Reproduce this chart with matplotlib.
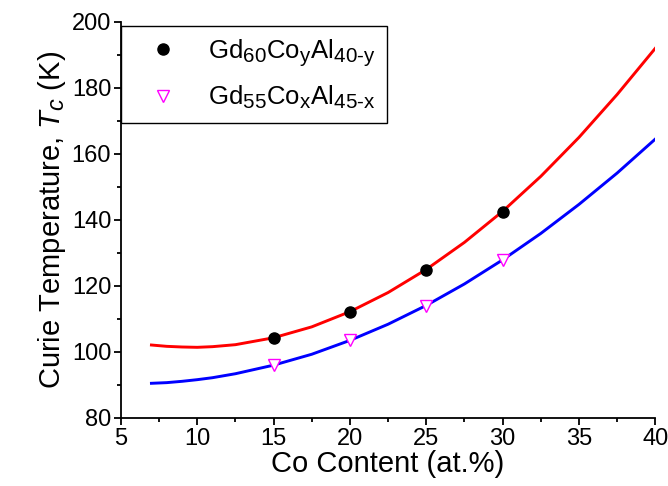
import matplotlib
matplotlib.use("Agg")
import matplotlib.pyplot as plt
import matplotlib._mathtext as mt
from matplotlib.ticker import MultipleLocator

plt.rcParams['font.family'] = 'Liberation Sans'
plt.rcParams['mathtext.fontset'] = 'custom'
plt.rcParams['mathtext.rm'] = 'Liberation Sans'
plt.rcParams['mathtext.it'] = 'Liberation Sans:italic'
mt.SHRINK_FACTOR = 0.8  # larger subscripts, like the original

# measured points
co_pts = [15, 20, 25, 30]
tc_gd60 = [104.3, 112.2, 124.8, 142.5]
tc_gd55 = [96.0, 103.5, 114.0, 127.8]

# fitted curves
co_fit = [7, 8, 9, 10, 11, 12.5, 15, 17.5, 20, 22.5, 25, 27.5, 30, 32.5, 35, 37.5, 40]
fit_gd60 = [102.1, 101.7, 101.5, 101.4, 101.6, 102.2, 104.3, 107.6, 112.2, 118.0, 125.0,
            133.2, 142.6, 153.2, 165.0, 178.0, 192.0]
fit_gd55 = [90.5, 90.7, 91.1, 91.6, 92.2, 93.4, 96.0, 99.3, 103.5, 108.4, 114.1,
            120.6, 127.9, 135.9, 144.7, 154.2, 164.5]

fig = plt.figure(figsize=(6.68, 4.86), dpi=100)
ax = fig.add_axes([0.181, 0.140, 0.800, 0.815])

ax.plot(co_fit, fit_gd60, color='#ff0000', lw=2.1)
ax.plot(co_fit, fit_gd55, color='#0000ff', lw=2.1)
ax.plot(co_pts, tc_gd60, 'o', color='black', ms=8,
        label=r'Gd$_{\mathrm{60}}$Co$_{\mathrm{y}}$Al$_{\mathrm{40\text{-}y}}$')
ax.plot(co_pts, tc_gd55, 'v', mfc='white', mec='#ff00ff', mew=1.0, ms=8.5,
        label=r'Gd$_{\mathrm{55}}$Co$_{\mathrm{x}}$Al$_{\mathrm{45\text{-}x}}$')

ax.set_xlim(5, 40)
ax.set_ylim(80, 200)
ax.xaxis.set_major_locator(MultipleLocator(5))
ax.xaxis.set_minor_locator(MultipleLocator(2.5))
ax.yaxis.set_major_locator(MultipleLocator(20))
ax.yaxis.set_minor_locator(MultipleLocator(10))

ax.spines['top'].set_visible(False)
ax.spines['right'].set_visible(False)
for s in ['left', 'bottom']:
    ax.spines[s].set_linewidth(1.3)
ax.tick_params(which='major', direction='out', length=5, width=1.3, labelsize=17, pad=2)
ax.tick_params(which='minor', direction='out', length=3, width=1.3)

ax.set_xlabel('Co Content (at.%)', fontsize=21, labelpad=0)
ax.set_ylabel(r'Curie Temperature, $T_c$ (K)', fontsize=21, labelpad=3)

leg = ax.legend(loc='upper left', fontsize=18.5, frameon=True, fancybox=False,
                edgecolor='black', framealpha=1, borderaxespad=0,
                handlelength=2.4, handletextpad=0.55, borderpad=0.45,
                labelspacing=0.6, bbox_to_anchor=(0.0, 0.99))
leg.get_frame().set_linewidth(1.0)

fig.savefig('out.png', dpi=100)
